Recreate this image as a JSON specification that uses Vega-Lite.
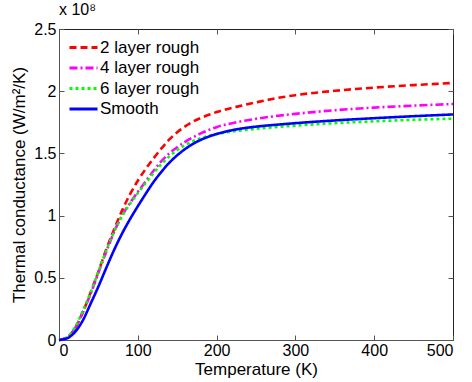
{
  "$schema": "https://vega.github.io/schema/vega-lite/v6.json",
  "width": 394,
  "height": 311,
  "autosize": {"type": "none"},
  "padding": {"left": 59, "top": 29, "right": 19, "bottom": 42},
  "background": "white",
  "config": {
    "font": "Liberation Sans",
    "view": {"stroke": "#222", "strokeWidth": 1},
    "axis": {"grid": false, "domainColor": "#555", "tickColor": "#555", "labelColor": "black", "titleColor": "black", "labelFont": "Liberation Sans", "titleFont": "Liberation Sans", "labelFontSize": 16, "titleFontSize": 17, "titleFontWeight": "normal", "tickSize": -5, "labelPadding": 7}
  },
  "title": {"text": "x 10⁸", "anchor": "start", "frame": "group", "offset": 3, "fontSize": 16, "fontWeight": "normal", "font": "Liberation Sans"},
  "data": {"values": [
    {"T":0,"G":0,"s":"2 layer rough"},{"T":10,"G":0.02,"s":"2 layer rough"},{"T":20,"G":0.09,"s":"2 layer rough"},{"T":30,"G":0.22,"s":"2 layer rough"},{"T":40,"G":0.38,"s":"2 layer rough"},{"T":50,"G":0.55,"s":"2 layer rough"},{"T":60,"G":0.73,"s":"2 layer rough"},{"T":70,"G":0.89,"s":"2 layer rough"},{"T":80,"G":1.04,"s":"2 layer rough"},{"T":90,"G":1.17,"s":"2 layer rough"},{"T":100,"G":1.28,"s":"2 layer rough"},{"T":110,"G":1.375,"s":"2 layer rough"},{"T":120,"G":1.46,"s":"2 layer rough"},{"T":130,"G":1.54,"s":"2 layer rough"},{"T":140,"G":1.612,"s":"2 layer rough"},{"T":150,"G":1.67,"s":"2 layer rough"},{"T":160,"G":1.717,"s":"2 layer rough"},{"T":170,"G":1.755,"s":"2 layer rough"},{"T":180,"G":1.785,"s":"2 layer rough"},{"T":190,"G":1.81,"s":"2 layer rough"},{"T":200,"G":1.832,"s":"2 layer rough"},{"T":225,"G":1.874,"s":"2 layer rough"},{"T":250,"G":1.91,"s":"2 layer rough"},{"T":275,"G":1.943,"s":"2 layer rough"},{"T":300,"G":1.968,"s":"2 layer rough"},{"T":350,"G":2.003,"s":"2 layer rough"},{"T":400,"G":2.029,"s":"2 layer rough"},{"T":450,"G":2.049,"s":"2 layer rough"},{"T":500,"G":2.066,"s":"2 layer rough"},
    {"T":0,"G":0,"s":"4 layer rough"},{"T":10,"G":0.02,"s":"4 layer rough"},{"T":20,"G":0.09,"s":"4 layer rough"},{"T":30,"G":0.22,"s":"4 layer rough"},{"T":40,"G":0.37,"s":"4 layer rough"},{"T":50,"G":0.54,"s":"4 layer rough"},{"T":60,"G":0.71,"s":"4 layer rough"},{"T":70,"G":0.87,"s":"4 layer rough"},{"T":80,"G":1.0,"s":"4 layer rough"},{"T":90,"G":1.1,"s":"4 layer rough"},{"T":100,"G":1.19,"s":"4 layer rough"},{"T":110,"G":1.275,"s":"4 layer rough"},{"T":120,"G":1.36,"s":"4 layer rough"},{"T":130,"G":1.437,"s":"4 layer rough"},{"T":140,"G":1.5,"s":"4 layer rough"},{"T":150,"G":1.55,"s":"4 layer rough"},{"T":160,"G":1.592,"s":"4 layer rough"},{"T":170,"G":1.629,"s":"4 layer rough"},{"T":180,"G":1.661,"s":"4 layer rough"},{"T":190,"G":1.688,"s":"4 layer rough"},{"T":200,"G":1.711,"s":"4 layer rough"},{"T":225,"G":1.75,"s":"4 layer rough"},{"T":250,"G":1.778,"s":"4 layer rough"},{"T":275,"G":1.8,"s":"4 layer rough"},{"T":300,"G":1.818,"s":"4 layer rough"},{"T":350,"G":1.847,"s":"4 layer rough"},{"T":400,"G":1.868,"s":"4 layer rough"},{"T":450,"G":1.884,"s":"4 layer rough"},{"T":500,"G":1.897,"s":"4 layer rough"},
    {"T":0,"G":0,"s":"6 layer rough"},{"T":10,"G":0.02,"s":"6 layer rough"},{"T":20,"G":0.1,"s":"6 layer rough"},{"T":30,"G":0.23,"s":"6 layer rough"},{"T":40,"G":0.38,"s":"6 layer rough"},{"T":50,"G":0.55,"s":"6 layer rough"},{"T":60,"G":0.72,"s":"6 layer rough"},{"T":70,"G":0.87,"s":"6 layer rough"},{"T":80,"G":0.995,"s":"6 layer rough"},{"T":90,"G":1.095,"s":"6 layer rough"},{"T":100,"G":1.18,"s":"6 layer rough"},{"T":110,"G":1.262,"s":"6 layer rough"},{"T":120,"G":1.342,"s":"6 layer rough"},{"T":130,"G":1.414,"s":"6 layer rough"},{"T":140,"G":1.476,"s":"6 layer rough"},{"T":150,"G":1.527,"s":"6 layer rough"},{"T":160,"G":1.567,"s":"6 layer rough"},{"T":170,"G":1.599,"s":"6 layer rough"},{"T":180,"G":1.623,"s":"6 layer rough"},{"T":190,"G":1.641,"s":"6 layer rough"},{"T":200,"G":1.655,"s":"6 layer rough"},{"T":225,"G":1.68,"s":"6 layer rough"},{"T":250,"G":1.697,"s":"6 layer rough"},{"T":275,"G":1.711,"s":"6 layer rough"},{"T":300,"G":1.723,"s":"6 layer rough"},{"T":350,"G":1.743,"s":"6 layer rough"},{"T":400,"G":1.758,"s":"6 layer rough"},{"T":450,"G":1.77,"s":"6 layer rough"},{"T":500,"G":1.779,"s":"6 layer rough"},
    {"T":0,"G":0,"s":"Smooth"},{"T":10,"G":0.013,"s":"Smooth"},{"T":20,"G":0.062,"s":"Smooth"},{"T":30,"G":0.155,"s":"Smooth"},{"T":40,"G":0.29,"s":"Smooth"},{"T":50,"G":0.43,"s":"Smooth"},{"T":60,"G":0.58,"s":"Smooth"},{"T":70,"G":0.725,"s":"Smooth"},{"T":80,"G":0.855,"s":"Smooth"},{"T":90,"G":0.97,"s":"Smooth"},{"T":100,"G":1.075,"s":"Smooth"},{"T":110,"G":1.175,"s":"Smooth"},{"T":120,"G":1.27,"s":"Smooth"},{"T":130,"G":1.352,"s":"Smooth"},{"T":140,"G":1.425,"s":"Smooth"},{"T":150,"G":1.485,"s":"Smooth"},{"T":160,"G":1.535,"s":"Smooth"},{"T":170,"G":1.576,"s":"Smooth"},{"T":180,"G":1.609,"s":"Smooth"},{"T":190,"G":1.635,"s":"Smooth"},{"T":200,"G":1.656,"s":"Smooth"},{"T":210,"G":1.673,"s":"Smooth"},{"T":225,"G":1.693,"s":"Smooth"},{"T":250,"G":1.715,"s":"Smooth"},{"T":275,"G":1.73,"s":"Smooth"},{"T":300,"G":1.743,"s":"Smooth"},{"T":350,"G":1.765,"s":"Smooth"},{"T":400,"G":1.783,"s":"Smooth"},{"T":450,"G":1.799,"s":"Smooth"},{"T":500,"G":1.813,"s":"Smooth"}
  ]},
  "layer": [
    {
      "mark": {"type": "line", "strokeWidth": 2.6, "interpolate": "monotone"},
      "encoding": {
        "x": {"field": "T", "type": "quantitative", "scale": {"domain": [0, 500], "nice": false}, "axis": {"title": "Temperature (K)", "values": [0,100,200,300,400,500], "titlePadding": 3}},
        "y": {"field": "G", "type": "quantitative", "scale": {"domain": [0, 2.5], "nice": false}, "axis": {"title": "Thermal conductance (W/m²/K)", "values": [0,0.5,1,1.5,2,2.5], "format": "~g", "titlePadding": 5, "labelPadding": 8}},
        "color": {"field": "s", "type": "nominal", "scale": {"domain": ["2 layer rough","4 layer rough","6 layer rough","Smooth"], "range": ["#ff0000","#ff00ff","#00ff00","#0000ff"]}, "legend": {"title": null, "orient": "none", "legendX": 13, "legendY": 7, "symbolType": "M-1.4,0H1.4", "symbolSize": 400, "symbolStrokeWidth": 3, "labelFontSize": 17, "labelFont": "Liberation Sans", "rowPadding": 0.5, "labelOffset": 5, "labelColor": "black"}},
        "strokeDash": {"field": "s", "type": "nominal", "scale": {"domain": ["2 layer rough","4 layer rough","6 layer rough","Smooth"], "range": [[7,4],[8,3,2,3],[3,3],[1,0]]}, "legend": null},
        "order": {"field": "T", "type": "quantitative"}
      }
    },
    {
      "mark": {"type": "line", "opacity": 0},
      "encoding": {
        "x": {"field": "T", "type": "quantitative", "axis": {"orient": "top", "labels": false, "title": null, "values": [0,100,200,300,400,500], "domain": false}},
        "y": {"field": "G", "type": "quantitative", "axis": {"orient": "right", "labels": false, "title": null, "values": [0,0.5,1,1.5,2,2.5], "domain": false}}
      }
    }
  ],
  "resolve": {"axis": {"x": "independent", "y": "independent"}}
}
